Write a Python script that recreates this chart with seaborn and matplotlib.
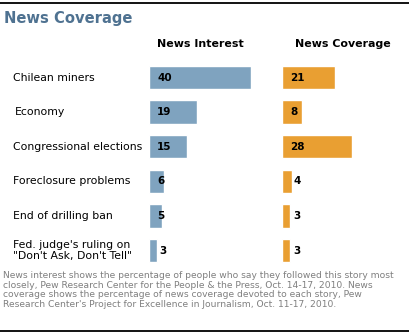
import matplotlib
matplotlib.use("Agg")
import matplotlib.pyplot as plt
import matplotlib.transforms as mtransforms
from matplotlib.lines import Line2D
import seaborn as sns
import pandas as pd

categories = ["Chilean miners", "Economy", "Congressional elections",
              "Foreclosure problems", "End of drilling ban",
              "Fed. judge's ruling on\n\"Don't Ask, Don't Tell\""]
news_interest = [40, 19, 15, 6, 5, 3]
news_coverage = [21, 8, 28, 4, 3, 3]

title = "News Coverage"
col_headers = ["News Interest", "News Coverage"]
footnote = ("News interest shows the percentage of people who say they followed this story most\n"
            "closely, Pew Research Center for the People & the Press, Oct. 14-17, 2010. News\n"
            "coverage shows the percentage of news coverage devoted to each story, Pew\n"
            "Research Center's Project for Excellence in Journalism, Oct. 11-17, 2010.")

W, H = 409, 335
sns.set_theme(style="white")
plt.rcParams["font.family"] = ["DejaVu Sans"]

fig = plt.figure(figsize=(W / 100, H / 100), dpi=100)

def px_axes(x0, y0, w, h):
    return fig.add_axes([x0 / W, 1 - (y0 + h) / H, w / W, h / H])

df = pd.DataFrame({"cat": categories, "interest": news_interest, "coverage": news_coverage})

row_top, row_h = 60.2, 207.6
ax1 = px_axes(149, row_top, 102, row_h)
ax2 = px_axes(282, row_top, 70, row_h)

blue = "#7FA3BF"
orange = "#E99F32"

sns.barplot(data=df, y="cat", x="interest", ax=ax1, color=blue, width=0.68,
            orient="h", saturation=1)
sns.barplot(data=df, y="cat", x="coverage", ax=ax2, color=orange, width=0.68,
            orient="h", saturation=1)
ax1.set_xlim(0, 40)
ax2.set_xlim(0, 28)

for ax in (ax1, ax2):
    ax.set_ylim(5.5, -0.5)
    ax.set_xlabel("")
    ax.set_ylabel("")
    ax.set_xticks([])
    ax.set_yticks([])
    for s in ax.spines.values():
        s.set_visible(False)
    ax.patch.set_alpha(0)

for i, v in enumerate(news_interest):
    t = mtransforms.blended_transform_factory(ax1.transAxes, ax1.transData)
    ax1.text(8 / 102 if v > 3 else 10 / 102, i, str(v), transform=t, ha="left", va="center",
             fontsize=7.5, fontweight="bold", color="black")
for i, v in enumerate(news_coverage):
    t = mtransforms.blended_transform_factory(ax2.transAxes, ax2.transData)
    xo = 8 / 70 if v > 4 else 11 / 70
    ax2.text(xo, i, str(v), transform=t, ha="left", va="center",
             fontsize=7.5, fontweight="bold", color="black")

tl = mtransforms.blended_transform_factory(fig.transFigure, ax1.transData)
for i, c in enumerate(categories):
    x = 15 if c == "Economy" else 13
    fig.text(x / W, i, c, transform=tl, ha="left", va="center",
             fontsize=7.8, color="black", linespacing=1.15)

fig.text(4 / W, 1 - 18 / H, title, ha="left", va="center", fontsize=10.6,
         fontweight="bold", color="#4F7291")
fig.text(200 / W, 1 - 44 / H, col_headers[0], ha="center", va="center",
         fontsize=7.9, fontweight="bold", color="black")
fig.text(343 / W, 1 - 44 / H, col_headers[1], ha="center", va="center",
         fontsize=7.9, fontweight="bold", color="black")

fig.text(3 / W, 1 - 271 / H, footnote, ha="left", va="top", fontsize=6.55,
         color="#7F7F7F", linespacing=1.1)

fig.add_artist(Line2D([0, 1], [1 - 3 / H, 1 - 3 / H], transform=fig.transFigure,
                      color="black", lw=1.3))
fig.add_artist(Line2D([0, 1], [1 - 331 / H, 1 - 331 / H], transform=fig.transFigure,
                      color="black", lw=1.3))

fig.savefig("out.png", dpi=100)
